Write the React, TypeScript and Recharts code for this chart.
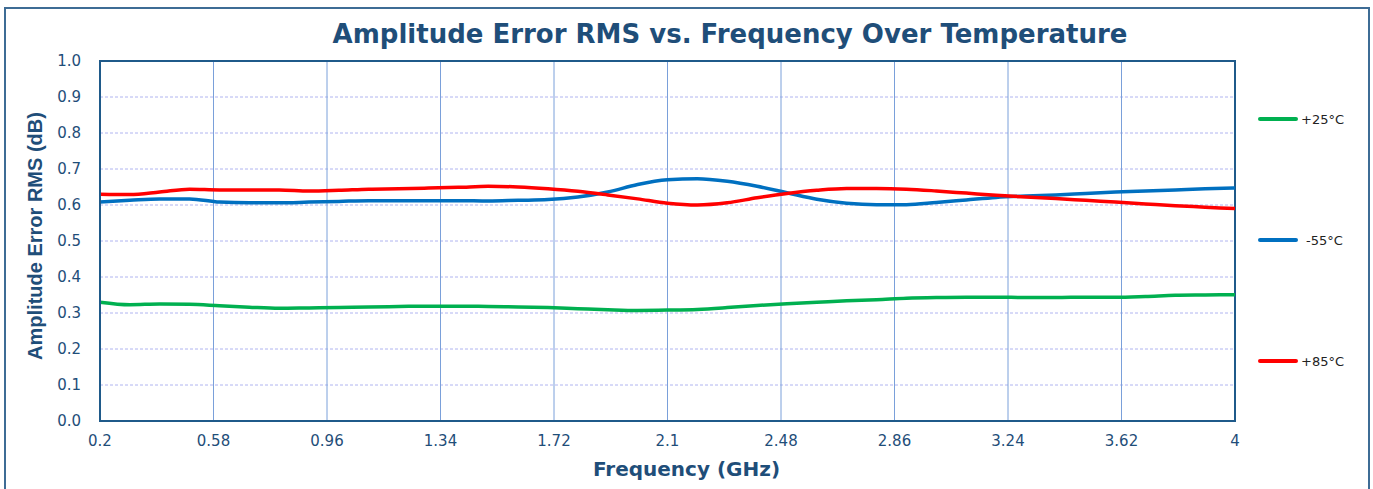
import { LineChart, Line, XAxis, YAxis, CartesianGrid, Legend, ReferenceArea } from 'recharts';

const freqs = [0.2, 0.3, 0.4, 0.5, 0.6, 0.7, 0.8, 0.9, 1.0, 1.1, 1.2, 1.3, 1.4, 1.5, 1.6, 1.7, 1.8, 1.9, 2.0, 2.1, 2.2, 2.3, 2.4, 2.5, 2.6, 2.7, 2.8, 2.9, 3.0, 3.1, 3.2, 3.3, 3.4, 3.5, 3.6, 3.7, 3.8, 3.9, 4.0];

const plus25 = [0.33, 0.323, 0.325, 0.324, 0.32, 0.316, 0.313, 0.314, 0.315, 0.317, 0.318, 0.319, 0.319, 0.318, 0.317, 0.315, 0.312, 0.309, 0.307, 0.308, 0.31, 0.315, 0.321, 0.326, 0.33, 0.334, 0.337, 0.341, 0.343, 0.344, 0.344, 0.343, 0.343, 0.344, 0.344, 0.346, 0.349, 0.35, 0.351];

const minus55 = [0.608, 0.613, 0.617, 0.617, 0.608, 0.606, 0.606, 0.608, 0.61, 0.612, 0.612, 0.612, 0.612, 0.611, 0.613, 0.615, 0.622, 0.636, 0.657, 0.67, 0.673, 0.666, 0.652, 0.634, 0.616, 0.605, 0.601, 0.601, 0.607, 0.614, 0.621, 0.625, 0.628, 0.632, 0.636, 0.639, 0.642, 0.645, 0.647];

const plus85 = [0.63, 0.629, 0.636, 0.644, 0.642, 0.642, 0.642, 0.639, 0.641, 0.644, 0.645, 0.647, 0.649, 0.652, 0.65, 0.645, 0.638, 0.628, 0.617, 0.605, 0.6, 0.606, 0.62, 0.632, 0.641, 0.646, 0.646, 0.644, 0.639, 0.633, 0.627, 0.622, 0.618, 0.613, 0.608, 0.603, 0.598, 0.594, 0.59];

const seriesNames = ['+25°C', '-55°C', '+85°C'];
const xTicks = [0.2, 0.58, 0.96, 1.34, 1.72, 2.1, 2.48, 2.86, 3.24, 3.62, 4];
const yTicks = [0, 0.1, 0.2, 0.3, 0.4, 0.5, 0.6, 0.7, 0.8, 0.9, 1.0];

const data = freqs.map((f, i) => ({
  freq: f,
  t25: plus25[i],
  t55: minus55[i],
  t85: plus85[i],
}));

const axisColor = '#1F5A8A';
const textColor = '#1F4E79';
const font = "'DejaVu Sans', Verdana, sans-serif";

function LegendBox({ payload }: any) {
  const items = [...(payload || [])].sort(
    (a: any, b: any) => seriesNames.indexOf(a.value) - seriesNames.indexOf(b.value)
  );
  return (
    <div style={{ fontFamily: font, fontSize: 13, color: '#222' }}>
      {items.map((p: any, i: number) => (
        <div
          key={p.value}
          style={{ display: 'flex', alignItems: 'center', height: 20, marginTop: i === 0 ? 0 : 101 }}
        >
          <span
            style={{ display: 'inline-block', width: 40, height: 4, borderRadius: 2, background: p.color, marginRight: i === 1 ? 8 : 3 }}
          />
          <span>{p.value}</span>
        </div>
      ))}
    </div>
  );
}

export default function App() {
  return (
    <div style={{ position: 'absolute', left: 0, top: 0, width: 1373, height: 489, overflow: 'hidden', background: '#fff' }}>
      <div
        style={{ position: 'absolute', left: 4, top: 7, width: 1362, height: 520, border: '2px solid #3E6C95' }}
      />
      <div
        style={{ position: 'absolute', left: 0, top: 19, width: 1460, textAlign: 'center', fontFamily: font, fontWeight: 'bold', fontSize: 26, color: textColor }}
      >
        Amplitude Error RMS vs. Frequency Over Temperature
      </div>
      <div style={{ position: 'absolute', left: 0, top: 0 }}>
        <LineChart width={1373} height={489} data={data} margin={{ top: 61, right: 28, left: 40, bottom: 38 }}>
          <CartesianGrid horizontal={true} vertical={false} stroke="#B0B4F0" strokeDasharray="3 2" />
          <CartesianGrid horizontal={false} vertical={true} stroke="#7AA0DA" />
          <XAxis
            dataKey="freq"
            type="number"
            domain={[0.2, 4]}
            ticks={xTicks}
            tickLine={false}
            axisLine={{ stroke: axisColor, strokeWidth: 2 }}
            tick={{ fill: textColor, fontSize: 15, fontFamily: font }}
            tickMargin={8}
            height={30}
            label={{ value: 'Frequency (GHz)', position: 'insideBottom', offset: -25, dx: 19, fill: textColor, fontSize: 20, fontWeight: 'bold', fontFamily: font }}
          />
          <YAxis
            type="number"
            domain={[0, 1]}
            ticks={yTicks}
            tickFormatter={(v: number) => v.toFixed(1)}
            tickLine={false}
            axisLine={{ stroke: axisColor, strokeWidth: 2 }}
            tick={{ fill: textColor, fontSize: 15, fontFamily: font }}
            tickMargin={13}
            width={60}
            label={{
              value: 'Amplitude Error RMS (dB)',
              angle: -90,
              position: 'insideLeft',
              offset: -5,
              dy: -5,
              fill: textColor,
              fontSize: 20,
              fontWeight: 'bold',
              fontFamily: "'Liberation Sans Narrow', 'Liberation Sans', sans-serif",
              style: { textAnchor: 'middle' },
            }}
          />
          <ReferenceArea x1={0.2} x2={4} y1={0} y2={1} fill="none" stroke={axisColor} strokeWidth={2} />
          <Legend
            layout="vertical"
            verticalAlign="top"
            align="right"
            content={<LegendBox />}
            wrapperStyle={{ left: 1258, top: 109, width: 110 }}
          />
          <Line type="monotone" dataKey="t25" name="+25°C" stroke="#00B050" strokeWidth={3.5} dot={false} isAnimationActive={false} />
          <Line type="monotone" dataKey="t55" name="-55°C" stroke="#0070C0" strokeWidth={3.5} dot={false} isAnimationActive={false} />
          <Line type="monotone" dataKey="t85" name="+85°C" stroke="#FF0000" strokeWidth={3.5} dot={false} isAnimationActive={false} />
        </LineChart>
      </div>
    </div>
  );
}
